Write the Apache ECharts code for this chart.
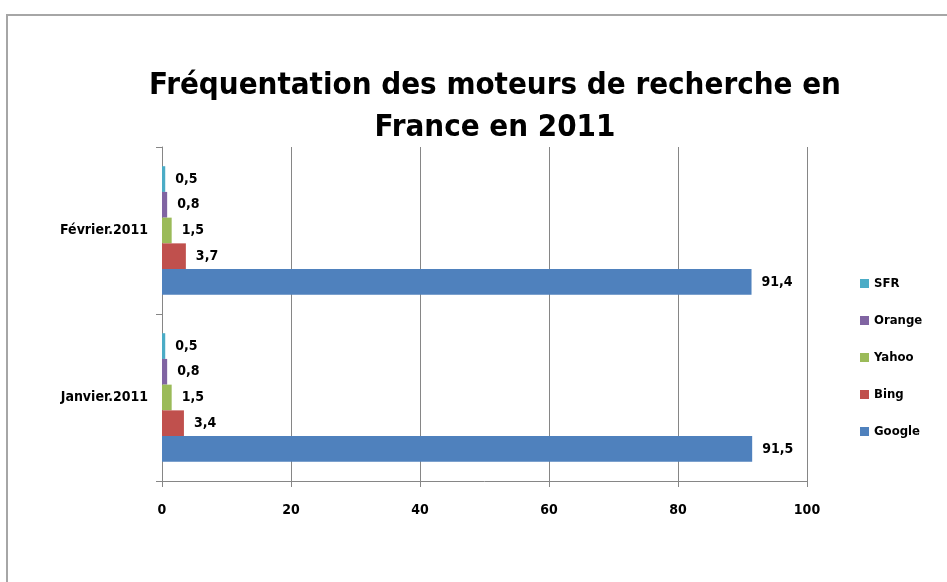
<!DOCTYPE html>
<html lang="fr">
  <head>
    <meta charset="UTF-8" />
    <title>Fréquentation des moteurs de recherche</title>
    <script src="https://cdn.jsdelivr.net/npm/echarts@6.0.0/dist/echarts.min.js"></script>
    <style>
      body { margin: 0; background: #fff; }
    </style>
  </head>
  <body>
    <div id="main" style="width: 947px; height: 582px"></div>
    <script type="text/javascript">
      // values
      const categories = ["Janvier.2011", "Février.2011"];
      const google = [91.5, 91.4];
      const bing = [3.4, 3.7];
      const yahoo = [1.5, 1.5];
      const orange = [0.8, 0.8];
      const sfr = [0.5, 0.5];
      const xTicks = [0, 20, 40, 60, 80, 100];

      const font = "'Liberation Sans Narrow', 'DejaVu Sans Condensed', sans-serif";

      function bar(name, data, color) {
        return {
          name: name,
          type: "bar",
          data: data,
          barGap: "0%",
          barCategoryGap: "23%",
          itemStyle: { color: color },
          label: {
            show: true,
            position: "right",
            distance: 10,
            fontFamily: font,
            fontWeight: "bold",
            fontSize: 14,
            color: "#000",
            formatter: (p) => String(p.value).replace(".", ","),
          },
        };
      }

      let options = {
        animation: false,
        title: {
          text: "Fréquentation des moteurs de recherche en\nFrance en 2011",
          left: 490,
          top: 60,
          textAlign: "center",
          textStyle: {
            fontFamily: font,
            fontWeight: "bold",
            fontSize: 31,
            lineHeight: 42,
            color: "#000",
          },
        },
        legend: {
          orient: "vertical",
          left: 855,
          top: 272,
          icon: "rect",
          itemWidth: 9,
          itemHeight: 9,
          itemGap: 24,
          data: ["SFR", "Orange", "Yahoo", "Bing", "Google"],
          textStyle: { fontFamily: font, fontWeight: "bold", fontSize: 13, color: "#000" },
        },
        graphic: [
          {
            type: "rect",
            shape: { x: 7, y: 15, width: 1000, height: 700 },
            style: { fill: null, stroke: "#a6a6a6", lineWidth: 2 },
            silent: true,
          },
        ],
        grid: { left: 162, right: 140, top: 147, bottom: 101 },
        xAxis: {
          type: "value",
          min: xTicks[0],
          max: xTicks[xTicks.length - 1],
          interval: 20,
          axisLine: { show: true, lineStyle: { color: "#868686" } },
          axisTick: { show: true, length: 6, lineStyle: { color: "#868686" } },
          splitLine: { lineStyle: { color: "#868686" } },
          axisLabel: { margin: 22, fontFamily: font, fontWeight: "bold", fontSize: 14, color: "#000" },
        },
        yAxis: {
          type: "category",
          data: categories,
          axisLine: { show: true, lineStyle: { color: "#868686" } },
          axisTick: { show: true, length: 6, lineStyle: { color: "#868686" } },
          axisLabel: { margin: 14, fontFamily: font, fontWeight: "bold", fontSize: 14, color: "#000" },
        },
        // first series is drawn at the top of each category
        series: [
          bar("SFR", sfr, "#4BACC6"),
          bar("Orange", orange, "#8064A2"),
          bar("Yahoo", yahoo, "#9BBB59"),
          bar("Bing", bing, "#C0504D"),
          bar("Google", google, "#4F81BD"),
        ],
      };

      let myChart = echarts.init(document.getElementById("main"));
      myChart.setOption(options);
    </script>
  </body>
</html>
